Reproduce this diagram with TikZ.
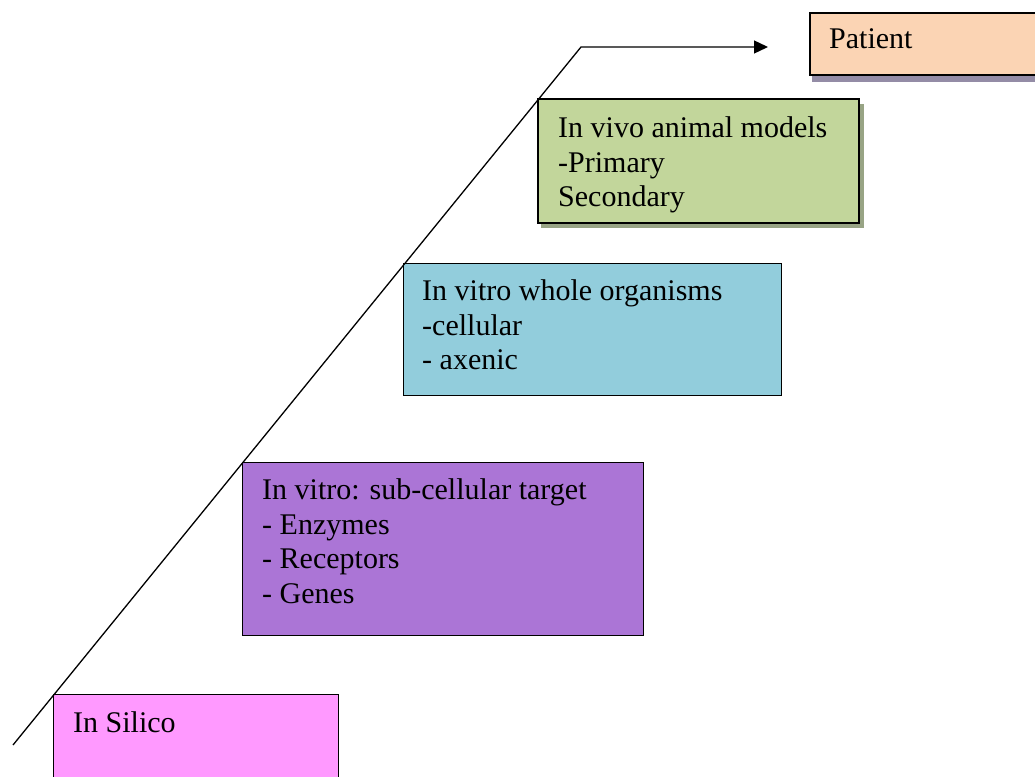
\documentclass[tikz,border=0pt]{standalone}
\usepackage{fontspec}
\setmainfont{Liberation Serif}
\usetikzlibrary{arrows.meta}
\definecolor{silico}{HTML}{FF99FF}
\definecolor{subcell}{HTML}{AB75D6}
\definecolor{whole}{HTML}{92CDDC}
\definecolor{vivo}{HTML}{C2D69B}
\definecolor{patient}{HTML}{FBD4B4}
\definecolor{vivoshadow}{HTML}{98A485}
\definecolor{patshadow}{HTML}{948CA6}
\tikzset{
  box/.style={draw=black, line width=1.3pt, rectangle, inner sep=0pt, anchor=north west},
  thickbox/.style={box, line width=2pt},
  boxtext/.style={anchor=north west, inner sep=0pt, align=left,
    font=\fontsize{30}{34.5}\selectfont},
  shadowbox/.style={inner sep=0pt, anchor=north west, draw=none},
  flow/.style={line width=1.3pt, -{Triangle[length=14pt,width=13pt]}}
}
\begin{document}
\begin{tikzpicture}[x=1pt,y=-1pt]
\useasboundingbox (0,0) rectangle (1035,776);
% shadows
\node[shadowbox, fill=vivoshadow, minimum width=323pt, minimum height=124pt] (vivoshd) at (541,104) {};
\node[shadowbox, fill=patshadow, minimum width=230pt, minimum height=62pt] (patshd) at (812,20) {};
% boxes
\node[box, fill=silico, minimum width=285pt, minimum height=100pt] (silico) at (53,694) {};
\node[box, fill=subcell, minimum width=401pt, minimum height=173pt] (subcell) at (242,462) {};
\node[box, fill=whole, minimum width=378pt, minimum height=132pt] (whole) at (403,263) {};
\node[thickbox, fill=vivo, minimum width=321pt, minimum height=124pt] (vivo) at (537,98) {};
\node[thickbox, fill=patient, minimum width=240pt, minimum height=62pt] (patient) at (809,12) {};
% texts
\node[boxtext] (silicotxt) at (73,711.5) {In Silico};
\node[boxtext] (subcelltxt) at (262,478.5) {In vitro: sub-cellular target\\- Enzymes\\- Receptors\\- Genes};
\node[boxtext] (wholetxt) at (422,279.5) {In vitro whole organisms\\-cellular\\- axenic};
\node[boxtext] (vivotxt) at (558,116.5) {In vivo animal models\\-Primary\\Secondary};
\node[boxtext] (patienttxt) at (829,28) {Patient};
% progression line
\coordinate (start) at (13,745);
\coordinate (bend) at (581,47);
\coordinate (tip) at (768,47);
\draw[flow] (start) -- (bend) -- (tip);
\end{tikzpicture}
\end{document}
